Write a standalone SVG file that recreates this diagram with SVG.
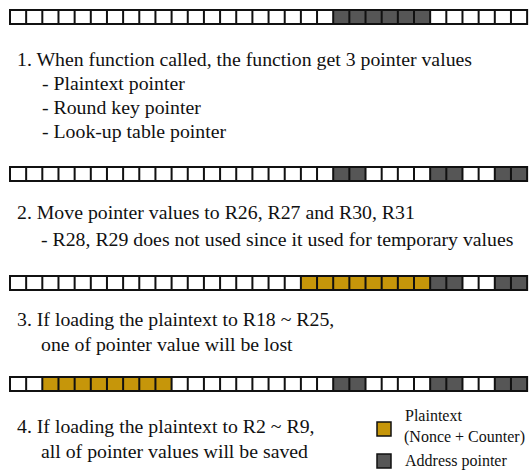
<svg xmlns="http://www.w3.org/2000/svg" width="530" height="470" viewBox="0 0 530 470">
<style>
.base{fill:#ffffff;stroke:none}
.frame{fill:none;stroke:#111111;stroke-width:2}
.grid{fill:none;stroke:#111111;stroke-width:2}
.dk{fill:#565656}
.gd{fill:#C6960A}
.key{stroke:#111111;stroke-width:1.5}
</style>
<rect width="530" height="470" fill="#ffffff"/>

<g id="row1" transform="translate(0,10)">
<rect class="base" x="10" y="0" width="517.12" height="14"/>
<rect class="dk" x="333.2" y="0" width="96.96" height="14"/>
<path class="grid" d="M26.16 0v14M42.32 0v14M58.48 0v14M74.64 0v14M90.8 0v14M106.96 0v14M123.12 0v14M139.28 0v14M155.44 0v14M171.6 0v14M187.76 0v14M203.92 0v14M220.08 0v14M236.24 0v14M252.4 0v14M268.56 0v14M284.72 0v14M300.88 0v14M317.04 0v14M333.2 0v14M349.36 0v14M365.52 0v14M381.68 0v14M397.84 0v14M414 0v14M430.16 0v14M446.32 0v14M462.48 0v14M478.64 0v14M494.8 0v14M510.96 0v14"/>
<rect class="frame" x="10" y="0" width="517.12" height="14"/>
</g>
<g id="step1">
<text x="17" y="66" font-family="Liberation Serif" font-size="19.8" fill="#111111">1. When function called, the function get 3 pointer values</text>
<text x="42" y="90" font-family="Liberation Serif" font-size="19.8" fill="#111111">- Plaintext pointer</text>
<text x="42" y="114" font-family="Liberation Serif" font-size="19.8" fill="#111111">- Round key pointer</text>
<text x="42" y="138" font-family="Liberation Serif" font-size="19.8" fill="#111111">- Look-up table pointer</text>
</g>

<g id="row2" transform="translate(0,167)">
<rect class="base" x="10" y="0" width="517.12" height="14"/>
<rect class="dk" x="333.2" y="0" width="32.32" height="14"/>
<rect class="dk" x="430.16" y="0" width="32.32" height="14"/>
<rect class="dk" x="494.8" y="0" width="32.32" height="14"/>
<path class="grid" d="M26.16 0v14M42.32 0v14M58.48 0v14M74.64 0v14M90.8 0v14M106.96 0v14M123.12 0v14M139.28 0v14M155.44 0v14M171.6 0v14M187.76 0v14M203.92 0v14M220.08 0v14M236.24 0v14M252.4 0v14M268.56 0v14M284.72 0v14M300.88 0v14M317.04 0v14M333.2 0v14M349.36 0v14M365.52 0v14M381.68 0v14M397.84 0v14M414 0v14M430.16 0v14M446.32 0v14M462.48 0v14M478.64 0v14M494.8 0v14M510.96 0v14"/>
<rect class="frame" x="10" y="0" width="517.12" height="14"/>
</g>
<g id="step2">
<text x="17" y="219" font-family="Liberation Serif" font-size="19.8" fill="#111111">2. Move pointer values to R26, R27 and R30, R31</text>
<text x="41" y="246" font-family="Liberation Serif" font-size="19.8" fill="#111111">- R28, R29 does not used since it used for temporary values</text>
</g>

<g id="row3" transform="translate(0,276)">
<rect class="base" x="10" y="0" width="517.12" height="14"/>
<rect class="gd" x="300.88" y="0" width="129.28" height="14"/>
<rect class="dk" x="430.16" y="0" width="32.32" height="14"/>
<rect class="dk" x="494.8" y="0" width="32.32" height="14"/>
<path class="grid" d="M26.16 0v14M42.32 0v14M58.48 0v14M74.64 0v14M90.8 0v14M106.96 0v14M123.12 0v14M139.28 0v14M155.44 0v14M171.6 0v14M187.76 0v14M203.92 0v14M220.08 0v14M236.24 0v14M252.4 0v14M268.56 0v14M284.72 0v14M300.88 0v14M317.04 0v14M333.2 0v14M349.36 0v14M365.52 0v14M381.68 0v14M397.84 0v14M414 0v14M430.16 0v14M446.32 0v14M462.48 0v14M478.64 0v14M494.8 0v14M510.96 0v14"/>
<rect class="frame" x="10" y="0" width="517.12" height="14"/>
</g>
<g id="step3">
<text x="17" y="326" font-family="Liberation Serif" font-size="19.8" fill="#111111">3. If loading the plaintext to R18 ~ R25,</text>
<text x="41" y="351" font-family="Liberation Serif" font-size="19.8" fill="#111111">one of pointer value will be lost</text>
</g>

<g id="row4" transform="translate(0,377)">
<rect class="base" x="10" y="0" width="517.12" height="14"/>
<rect class="gd" x="42.32" y="0" width="129.28" height="14"/>
<rect class="dk" x="333.2" y="0" width="32.32" height="14"/>
<rect class="dk" x="430.16" y="0" width="32.32" height="14"/>
<rect class="dk" x="494.8" y="0" width="32.32" height="14"/>
<path class="grid" d="M26.16 0v14M42.32 0v14M58.48 0v14M74.64 0v14M90.8 0v14M106.96 0v14M123.12 0v14M139.28 0v14M155.44 0v14M171.6 0v14M187.76 0v14M203.92 0v14M220.08 0v14M236.24 0v14M252.4 0v14M268.56 0v14M284.72 0v14M300.88 0v14M317.04 0v14M333.2 0v14M349.36 0v14M365.52 0v14M381.68 0v14M397.84 0v14M414 0v14M430.16 0v14M446.32 0v14M462.48 0v14M478.64 0v14M494.8 0v14M510.96 0v14"/>
<rect class="frame" x="10" y="0" width="517.12" height="14"/>
</g>
<g id="step4">
<text x="17" y="433" font-family="Liberation Serif" font-size="19.8" fill="#111111">4. If loading the plaintext to R2 ~ R9,</text>
<text x="41" y="458" font-family="Liberation Serif" font-size="19.8" fill="#111111">all of pointer values will be saved</text>
</g>

<g id="legend">
<rect class="gd key" x="377" y="422" width="14" height="14"/>
<text x="405" y="421" font-family="Liberation Serif" font-size="16" fill="#111111">Plaintext</text>
<text x="404" y="442" font-family="Liberation Serif" font-size="16" fill="#111111">(Nonce + Counter)</text>
<rect class="dk key" x="377" y="454" width="14" height="14"/>
<text x="405" y="466" font-family="Liberation Serif" font-size="16" fill="#111111">Address pointer</text>
</g>
</svg>
